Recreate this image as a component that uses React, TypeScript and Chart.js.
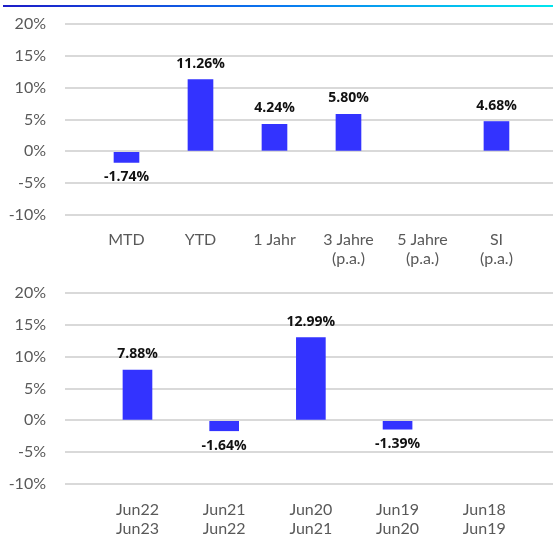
import React, { useEffect, useRef } from "react";
import { Chart, registerables } from "chart.js";

Chart.register(...registerables);

const topCategories: string[][] = [["MTD"], ["YTD"], ["1 Jahr"], ["3 Jahre", "(p.a.)"], ["5 Jahre", "(p.a.)"], ["SI", "(p.a.)"]];
const topValues: (number | null)[] = [-1.74, 11.26, 4.24, 5.8, null, 4.68];

const bottomCategories: string[][] = [["Jun22", "Jun23"], ["Jun21", "Jun22"], ["Jun20", "Jun21"], ["Jun19", "Jun20"], ["Jun18", "Jun19"]];
const bottomValues: (number | null)[] = [7.88, -1.64, 12.99, -1.39, null];

const yTicks = { min: -10, max: 20, step: 5 };

const BAR = "#3333ff";
const GRID = "#d9d9d9";
const TEXT = "#595959";

const labelPlugin = {
  id: "valueLabels",
  afterDatasetsDraw(chart: any) {
    const ctx = chart.ctx;
    const meta = chart.getDatasetMeta(0);
    const data = chart.data.datasets[0].data as any[];
    ctx.save();
    ctx.font = "bold 14px 'Open Sans', 'Noto Sans', sans-serif";
    ctx.fillStyle = "#111111";
    ctx.textAlign = "center";
    ctx.textBaseline = "middle";
    meta.data.forEach((el: any, i: number) => {
      const v = data[i]?.y;
      if (v === null || v === undefined) return;
      const y = v >= 0 ? el.y - 16 : el.y + 15;
      ctx.fillText(v.toFixed(2) + "%", el.x, y);
    });
    ctx.restore();
  },
};

function makeConfig(cats: string[][], vals: (number | null)[], xmin: number, xmax: number, thickness: number, padTop: number, xHeight: number, xPad: number) {
  return {
    type: "bar" as const,
    data: {
      datasets: [
        {
          data: vals.map((v, i) => ({ x: i, y: v })),
          backgroundColor: BAR,
          borderWidth: 0,
          barThickness: thickness,
        },
      ],
    },
    options: {
      responsive: false,
      animation: false as const,
      layout: { padding: { top: padTop, left: 0, right: 0, bottom: 0 } },
      plugins: { legend: { display: false }, tooltip: { enabled: false } },
      scales: {
        x: {
          type: "linear" as const,
          min: xmin,
          max: xmax,
          offset: false,
          grid: { display: false, drawTicks: false },
          border: { display: false },
          afterBuildTicks: (axis: any) => {
            axis.ticks = cats.map((_, i) => ({ value: i }));
          },
          afterFit: (axis: any) => {
            axis.height = xHeight;
            axis.paddingLeft = 0;
            axis.paddingRight = 0;
          },
          ticks: {
            autoSkip: false,
            maxRotation: 0,
            padding: xPad,
            color: TEXT,
            font: { family: "Lato, 'Open Sans', sans-serif", size: 16, lineHeight: 1.15 },
            callback: (v: any) => cats[v] ?? "",
          },
        },
        y: {
          min: yTicks.min,
          max: yTicks.max,
          grid: { color: GRID, lineWidth: 2, drawTicks: false },
          border: { display: false },
          afterFit: (axis: any) => {
            axis.width = 65;
            axis.paddingTop = 0;
            axis.paddingBottom = 0;
          },
          ticks: {
            stepSize: yTicks.step,
            padding: 19,
            color: TEXT,
            font: { family: "Lato, 'Open Sans', sans-serif", size: 16 },
            callback: (v: any) => v + "%",
          },
        },
      },
    },
    plugins: [labelPlugin],
  };
}

function BarPanel(props: { cats: string[][]; vals: (number | null)[]; xmin: number; xmax: number; thickness: number; height: number; padTop: number; xHeight: number; xPad: number }) {
  const ref = useRef<HTMLCanvasElement | null>(null);
  useEffect(() => {
    if (!ref.current) return;
    const chart = new Chart(ref.current, makeConfig(props.cats, props.vals, props.xmin, props.xmax, props.thickness, props.padTop, props.xHeight, props.xPad) as any);
    return () => chart.destroy();
  }, []);
  return <canvas ref={ref} width={553} height={props.height} style={{ display: "block", width: 553, height: props.height }} />;
}

export default function App() {
  return (
    <div style={{ position: "absolute", left: 0, top: 0, width: 553, height: 536, background: "#fff", overflow: "hidden" }}>
      <div
        style={{
          position: "absolute",
          left: 3,
          top: 5,
          width: 550,
          height: 2,
          background: "linear-gradient(to right, #1c1cc8, #0a78f0, #00e6ee)",
        }}
      />
      <div style={{ position: "absolute", left: 0, top: 0 }}>
        <BarPanel cats={topCategories} vals={topValues} xmin={-0.831} xmax={5.764} thickness={25} height={270} padTop={24} xHeight={55} xPad={16} />
      </div>
      <div style={{ position: "absolute", left: 0, top: 270 }}>
        <BarPanel cats={bottomCategories} vals={bottomValues} xmin={-0.836} xmax={4.793} thickness={29} height={266} padTop={23} xHeight={52} xPad={17} />
      </div>
    </div>
  );
}
